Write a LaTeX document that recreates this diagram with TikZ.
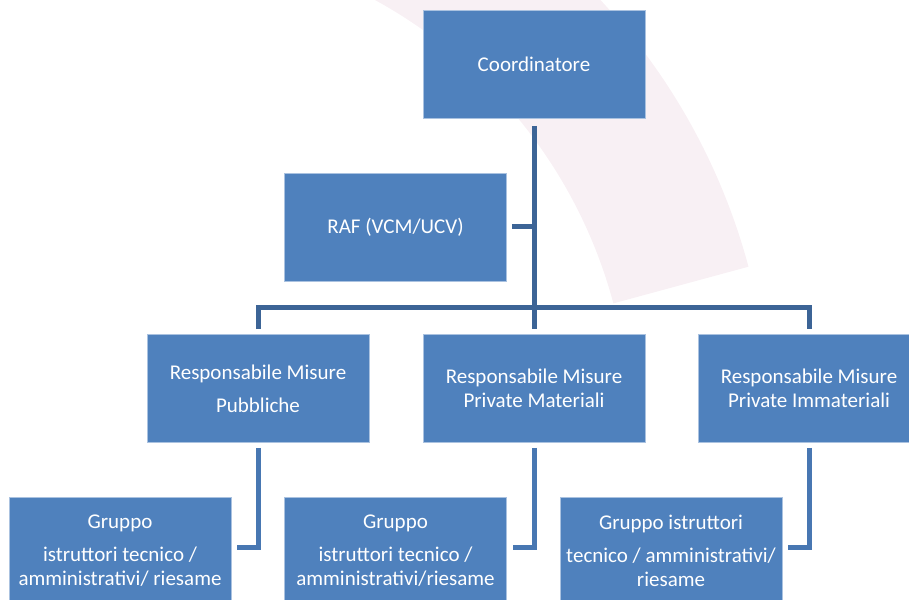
\documentclass[tikz,border=0pt]{standalone}
\usepackage{fontspec}
\setmainfont{Carlito}
\usetikzlibrary{positioning}
\definecolor{boxblue}{RGB}{79,129,189}
\definecolor{boxedge}{RGB}{170,194,224}
\definecolor{linedark}{RGB}{60,100,150}
\definecolor{linelight}{RGB}{72,119,178}
\definecolor{wmpink}{RGB}{248,240,244}
\tikzstyle{role}=[draw=boxedge, fill=boxblue, text=white, align=center, minimum width=222pt, minimum height=108pt, inner sep=0pt, line width=0.8pt]
\tikzstyle{link}=[draw=linedark, line width=5pt]
\tikzstyle{sublink}=[draw=linelight, line width=5pt]
\tikzstyle{wmark}=[draw=wmpink, line width=140pt]

\begin{document}
\begin{tikzpicture}[x=1pt,y=1pt,font={\fontsize{21}{24.5}\selectfont}]
		    \useasboundingbox (0,0) rectangle (909,599);
		    \clip (0,0) rectangle (909,599);
		    % faint background mark
		    \draw [wmark] (140,169) ++(15:560) arc[start angle=15,end angle=64,radius=560];
		    \node [role] (coord) at (534,534.5) {Coordinatore};
		    \node [role] (raf) at (395.5,372) {RAF (VCM/UCV)};
		    \node [role] (rmat) [below of=coord,node distance=324pt] {Responsabile Misure\\Private Materiali};
		    \node [role] (rpub) [left of=rmat,node distance=276pt] {Responsabile Misure\\[8.5pt]Pubbliche};
		    \node [role] (rimm) [right of=rmat,node distance=275pt] {Responsabile Misure\\Private Immateriali};
		    \node [role] (gpub) at (120,48) {Gruppo\\[8pt]istruttori tecnico /\\amministrativi/ riesame};
		    \node [role] (gmat) [right of=gpub,node distance=275.5pt] {Gruppo\\[8pt]istruttori tecnico /\\amministrativi/riesame};
		    \node [role] (gimm) [right of=gmat,node distance=275.5pt] {Gruppo istruttori\\[8pt]tecnico / amministrativi/\\riesame};
		    \coordinate (bar) at (534,291.5);
		    % upper tree
		    \draw [link] ([yshift=-7pt]coord.south) -- ([yshift=5pt]rmat.north);
		    \draw [link] ([yshift=5pt]rpub.north) |- (bar) -| ([yshift=5pt]rimm.north);
		    \draw [link] ([xshift=5pt]raf.east) -- (raf.east -| coord.south);
		    % groups
		    \draw [sublink] ([yshift=-5pt]rpub.south) |- ([xshift=6pt,yshift=3pt]gpub.east);
		    \draw [sublink] ([yshift=-5pt]rmat.south) |- ([xshift=6pt,yshift=3pt]gmat.east);
		    \draw [sublink] ([yshift=-5pt]rimm.south) |- ([xshift=6pt,yshift=3pt]gimm.east);
		\end{tikzpicture}
\end{document}
